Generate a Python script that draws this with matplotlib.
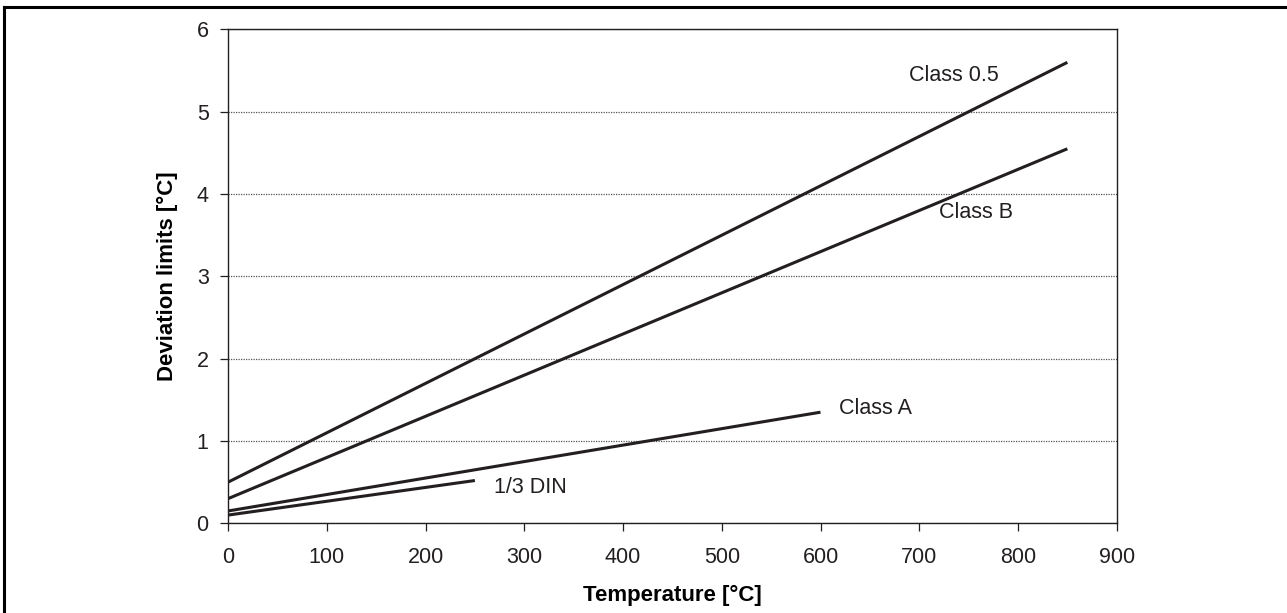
import matplotlib
matplotlib.use("Agg")
import matplotlib.pyplot as plt
from matplotlib.lines import Line2D

INK = "#231f20"
GRID = "#555555"

# --- Data (endpoints of each straight line) ---
CLASS_05_T = [0, 850]
CLASS_05_DEV = [0.5, 5.6]
CLASS_B_T = [0, 850]
CLASS_B_DEV = [0.3, 4.55]
CLASS_A_T = [0, 600]
CLASS_A_DEV = [0.15, 1.35]
DIN_T = [0, 250]
DIN_DEV = [0.1, 0.52]

X_TICKS = [0, 100, 200, 300, 400, 500, 600, 700, 800, 900]
Y_TICKS = [0, 1, 2, 3, 4, 5, 6]

plt.rcParams.update({
    "font.family": ["Liberation Sans", "DejaVu Sans"],
    "text.color": INK,
    "axes.edgecolor": INK,
    "xtick.color": INK,
    "ytick.color": INK,
})

fig = plt.figure(figsize=(12.87, 6.13), dpi=100)
ax = fig.add_axes([0.1772, 0.1463, 0.6905, 0.8057])

for t, d in [(CLASS_05_T, CLASS_05_DEV), (CLASS_B_T, CLASS_B_DEV),
             (CLASS_A_T, CLASS_A_DEV), (DIN_T, DIN_DEV)]:
    ax.plot(t, d, color=INK, linewidth=2.2, solid_capstyle="butt", zorder=3)

ax.text(690, 5.44, "Class 0.5", fontsize=15.5, va="center", ha="left")
ax.text(720, 3.77, "Class B", fontsize=15.5, va="center", ha="left")
ax.text(619, 1.40, "Class A", fontsize=15.5, va="center", ha="left")
ax.text(269, 0.43, "1/3 DIN", fontsize=15.5, va="center", ha="left")

ax.set_xlim(0, 900)
ax.set_ylim(0, 6)
ax.set_xticks(X_TICKS)
ax.set_yticks(Y_TICKS)
ax.tick_params(axis="both", direction="out", length=6, width=0.9, labelsize=15.5)
ax.tick_params(axis="x", pad=11)
ax.tick_params(axis="y", pad=8)

for spine in ax.spines.values():
    spine.set_linewidth(1.0)

ax.grid(axis="y", linestyle=(0, (1, 1)), color=GRID, linewidth=0.9, zorder=0)
ax.set_axisbelow(True)

ax.set_xlabel("Temperature [°C]", fontsize=16, fontweight="bold", va="center")
ax.set_ylabel("Deviation limits [°C]", fontsize=16, fontweight="bold", va="center")
ax.xaxis.set_label_coords(0.5, -0.1457)
ax.yaxis.set_label_coords(-0.0687, 0.5)

# frame around the figure (left and top edges visible)
fig.add_artist(Line2D([4 / 1287, 4 / 1287], [0, 1 - 7 / 613], transform=fig.transFigure,
                      color="black", linewidth=2.2, solid_capstyle="projecting"))
fig.add_artist(Line2D([4 / 1287, 1], [1 - 7 / 613, 1 - 7 / 613], transform=fig.transFigure,
                      color="black", linewidth=2.2, solid_capstyle="projecting"))

fig.savefig("out.png", dpi=100)
